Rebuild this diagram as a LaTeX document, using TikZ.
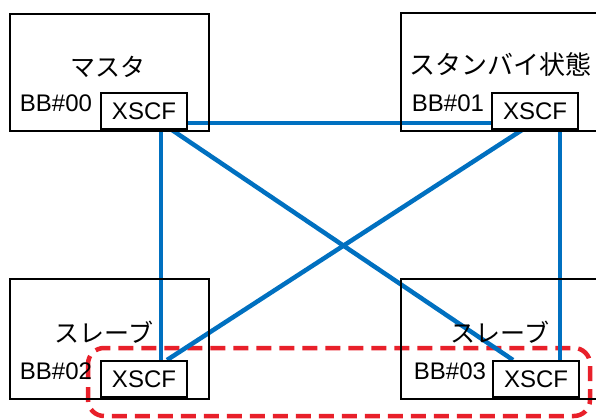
\documentclass[tikz,border=0pt]{standalone}
\usepackage{fontspec}
\setmainfont{Liberation Sans}
\newfontfamily\jpfont{Noto Sans CJK JP}
\usetikzlibrary{backgrounds}
\definecolor{linkblue}{RGB}{0,112,192}
\definecolor{groupred}{RGB}{232,32,42}
\begin{document}
\begin{tikzpicture}[x=1pt,y=-1pt,
  bbbox/.style={draw=black,line width=2pt,anchor=north west,inner sep=0pt},
  xscfbox/.style={draw=black,line width=2pt,fill=white,minimum width=86pt,minimum height=36pt,
    inner sep=0pt,anchor=south west,font=\fontsize{24}{24}\selectfont},
  role/.style={font=\jpfont\fontsize{25}{25}\selectfont,inner sep=0pt},
  bblabel/.style={font=\fontsize{24}{24}\selectfont,inner sep=0pt},
  link/.style={draw=linkblue,line width=4.5pt},
  group/.style={draw=groupred,line width=4.5pt,dash pattern=on 15pt off 8pt,rounded corners=16pt}]
\useasboundingbox (0,0) rectangle (596,419);
\clip (0,0) rectangle (596,419);

% building block chassis
\node[bbbox,minimum width=199pt,minimum height=117pt] (bb0) at (9,13) {};
\node[bbbox,minimum width=200pt,minimum height=118pt] (bb1) at (400,12) {};
\node[bbbox,minimum width=199pt,minimum height=120pt] (bb2) at (9,278) {};
\node[bbbox,minimum width=200pt,minimum height=120pt] (bb3) at (400,278) {};

% roles and names
\node[role] (r0) at (108,67) {マスタ};
\node[role,font=\jpfont\fontsize{26}{26}\selectfont] (r1) at (500,65) {スタンバイ状態};
\node[role] (r2) at (104,332) {スレーブ};
\node[role] (r3) at (500,332) {スレーブ};
\node[bblabel] (n0) at (56,103) {BB\#00};
\node[bblabel] (n1) at (448,103) {BB\#01};
\node[bblabel] (n2) at (56,371) {BB\#02};
\node[bblabel] (n3) at (450,371) {BB\#03};

% XSCF units
\node[xscfbox] (x0) at (100,130) {XSCF};
\node[xscfbox] (x1) at (491,130) {XSCF};
\node[xscfbox] (x2) at (100,398) {XSCF};
\node[xscfbox] (x3) at (492,398) {XSCF};

\begin{pgfonlayer}{background}
  % slave group
  \draw[group] (88,348) rectangle (590,416);
  % XSCF interconnect
  \draw[link] ([yshift=7pt]x0.south east) -- ([yshift=7pt]x1.south west);
  \draw[link] ([xshift=61pt]x0.south west) -- ([xshift=61pt]x2.north west);
  \draw[link] ([xshift=72pt]x0.south west) -- ([xshift=21pt]x3.north west);
  \draw[link] ([xshift=31pt]x1.south west) -- ([xshift=67pt]x2.north west);
  \draw[link] ([xshift=69pt]x1.south west) -- ([xshift=68pt]x3.north west);
\end{pgfonlayer}
\end{tikzpicture}
\end{document}
